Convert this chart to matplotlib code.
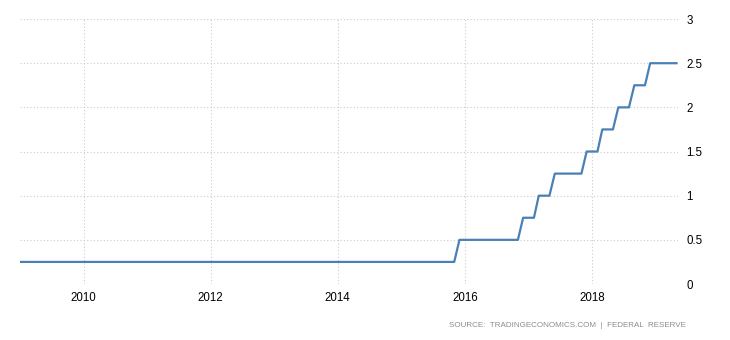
import pandas as pd
import matplotlib
matplotlib.use("Agg")
from matplotlib import pyplot as plt
import matplotlib.dates as mdates

# months where the rate changes (value holds until the next entry)
months = ["2009-01", "2015-11", "2015-12", "2016-11", "2016-12", "2017-02",
          "2017-03", "2017-05", "2017-06", "2017-11", "2017-12", "2018-02",
          "2018-03", "2018-05", "2018-06", "2018-08", "2018-09", "2018-11",
          "2018-12", "2019-05"]
rate = [0.25, 0.25, 0.5, 0.5, 0.75, 0.75,
        1.0, 1.0, 1.25, 1.25, 1.5, 1.5,
        1.75, 1.75, 2.0, 2.0, 2.25, 2.25,
        2.5, 2.5]
y_ticks = [0, 0.5, 1, 1.5, 2, 2.5, 3]
y_labels = ["0", "0.5", "1", "1.5", "2", "2.5", "3"]
source = "SOURCE:  TRADINGECONOMICS.COM  |  FEDERAL  RESERVE"

dates = pd.to_datetime(months)

plt.rcParams["font.family"] = ["Liberation Sans", "DejaVu Sans"]
plt.rcParams["font.size"] = 8

fig = plt.figure(figsize=(7.3, 3.4), dpi=100)
ax = fig.add_axes([0.0274, 0.1647, 0.9014, 0.7793])
ax.plot(dates, rate, color="#4a80b5", linewidth=1.6, zorder=3)

ax.set_xlim(pd.Timestamp("2009-01-01"), pd.Timestamp("2019-05-10"))
ax.set_ylim(0, 3)
ax.xaxis.set_major_locator(mdates.YearLocator(2))
ax.xaxis.set_major_formatter(mdates.DateFormatter("%Y"))
ax.set_yticks(y_ticks)
ax.set_yticklabels(y_labels)
ax.yaxis.tick_right()
ax.tick_params(axis="y", length=0, pad=6, labelsize=8.3)
ax.tick_params(axis="x", length=0, pad=6, labelsize=8.3)
for lab in ax.get_yticklabels():
    lab.set_horizontalalignment("left")

ax.grid(True, color="#cccccc", linestyle=(0, (1, 2)), linewidth=0.8)
for s in ax.spines.values():
    s.set_visible(False)

fig.text(0.939, 0.032, source, ha="right", va="bottom", fontsize=5.8, color="#8c8c8c")

fig.savefig("out.png", dpi=100)
